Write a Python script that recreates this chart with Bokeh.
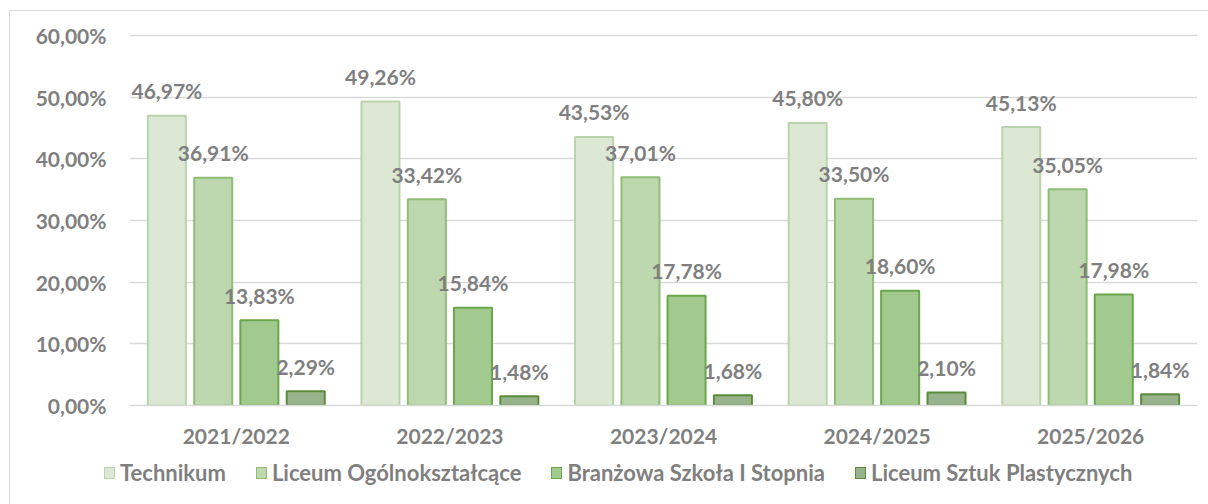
from bokeh.plotting import figure
from bokeh.models import (ColumnDataSource, FactorRange, FixedTicker, CustomJSTickFormatter,
                          Range1d, LabelSet, Div)
from bokeh.layouts import column
from bokeh.transform import dodge
from bokeh.core.properties import value
from bokeh.embed import file_html
from bokeh.resources import INLINE

years = ["2021/2022", "2022/2023", "2023/2024", "2024/2025", "2025/2026"]
series_names = ["Technikum", "Liceum Ogólnokształcące", "Branżowa Szkoła I Stopnia", "Liceum Sztuk Plastycznych"]
technikum = [46.97, 49.26, 43.53, 45.80, 45.13]
liceum_ogolno = [36.91, 33.42, 37.01, 33.50, 35.05]
branzowa = [13.83, 15.84, 17.78, 18.60, 17.98]
liceum_sztuk = [2.29, 1.48, 1.68, 2.10, 1.84]
y_ticks = [0, 10, 20, 30, 40, 50, 60]

series = [technikum, liceum_ogolno, branzowa, liceum_sztuk]
fills = ["#dce8d4", "#bdd7ae", "#a3ca8e", "#98b38b"]
lines = ["#b9d4aa", "#8fbd75", "#6aa64c", "#5a8c3c"]
offsets = [-0.325, -0.108, 0.108, 0.325]

FONT = "Lato"
GRAY = "#7f7f7f"

p = figure(x_range=FactorRange(*years, range_padding=0), y_range=Range1d(0, 60.3),
           width=1198, height=444, output_backend="svg", toolbar_location=None,
           min_border_left=119, min_border_right=11, min_border_top=22, min_border_bottom=50)
p.outline_line_color = None

for name, vals, fc, lc, off in zip(series_names, series, fills, lines, offsets):
    src = ColumnDataSource(dict(x=years, y=vals,
                                lab=[f"{v:.2f}".replace(".", ",") + "%" for v in vals]))
    p.vbar(x=dodge("x", off, range=p.x_range), top="y", width=0.178, source=src,
           fill_color=fc, line_color=lc, line_width=2)
    p.add_layout(LabelSet(x=dodge("x", off, range=p.x_range), y="y", text="lab", source=src,
                          text_align="center", text_baseline="middle", y_offset=25,
                          text_font=value(FONT), text_font_style="bold",
                          text_font_size="21px", text_color=GRAY))

p.yaxis.ticker = FixedTicker(ticks=y_ticks)
p.yaxis.formatter = CustomJSTickFormatter(code="return tick.toFixed(2).replace('.', ',') + '%';")
p.yaxis.axis_line_color = None
p.yaxis.major_tick_line_color = None
p.yaxis.minor_tick_line_color = None
p.yaxis.major_label_standoff = 17
p.yaxis.major_label_text_font = FONT
p.yaxis.major_label_text_font_style = "bold"
p.yaxis.major_label_text_font_size = "21px"
p.yaxis.major_label_text_color = GRAY

p.xaxis.axis_line_color = "#d9d9d9"
p.xaxis.axis_line_width = 1.5
p.xaxis.major_tick_line_color = None
p.xaxis.minor_tick_line_color = None
p.xaxis.major_label_standoff = 11
p.xaxis.major_label_text_font = FONT
p.xaxis.major_label_text_font_style = "bold"
p.xaxis.major_label_text_font_size = "21px"
p.xaxis.major_label_text_color = GRAY

p.xgrid.grid_line_color = None
p.ygrid.grid_line_color = "#d9d9d9"
p.ygrid.grid_line_width = 1.5

# legend strip below the chart
parts = []
for i, (name, fc, lc) in enumerate(zip(series_names, fills, lines)):
    gap = "0" if i == len(series_names) - 1 else "30px"
    parts.append(
        f'<span style="display:inline-block;width:11px;height:12px;background:{fc};'
        f'border:1.5px solid {lc};margin-right:5px;flex:none"></span>'
        f'<span style="margin-right:{gap}">{name}</span>')
legend_html = (f'<div style="display:flex;align-items:center;font-family:{FONT};font-weight:bold;'
               f'font-size:22px;color:{GRAY};padding-left:89px;padding-top:1px;white-space:nowrap;'
               f'line-height:24px">' + "".join(parts) + "</div>")
lg = Div(text=legend_html, width=1198, height=49)

layout = column(p, lg, spacing=0, margin=(10, 0, 0, 9),
                styles={"border-left": "1px solid #d9d9d9", "border-top": "1px solid #d9d9d9"})

open("out.html", "w").write(file_html(layout, INLINE))
